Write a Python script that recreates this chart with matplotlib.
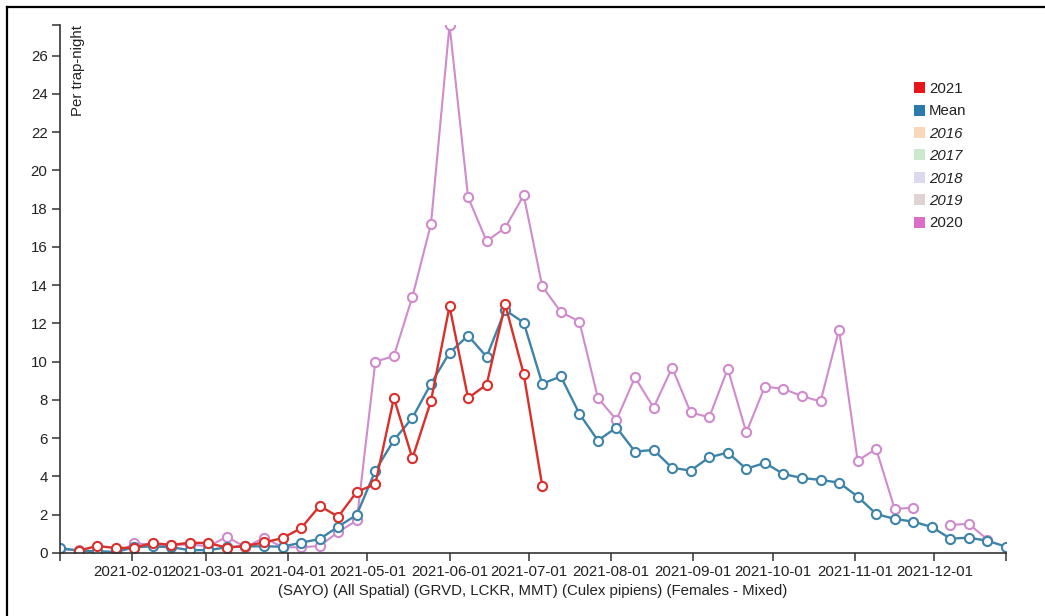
import numpy as np
import pandas as pd
import matplotlib
matplotlib.use('Agg')
import matplotlib.pyplot as plt
import matplotlib.dates as mdates
from matplotlib.patches import Patch
from matplotlib.lines import Line2D

plt.rcParams['font.family'] = ['Liberation Sans', 'DejaVu Sans']

nan = np.nan

# weekly collection dates
weeks = pd.date_range('2021-01-05', periods=52, freq='7D')

# per trap-night counts, 2021 season so far
y2021 = [nan, 0.12, 0.37, 0.26, 0.28, 0.52, 0.42, 0.54, 0.52, 0.28,
         0.37, 0.55, 0.78, 1.3, 2.46, 1.9, 3.2, 3.6, 8.1, 4.95,
         7.95, 12.9, 8.1, 8.8, 13.0, 9.35, 3.5] + [nan] * 25

# multi-year mean
y_mean = [0.26, 0.12, 0.1, 0.05, 0.3, 0.35, 0.3, 0.15, 0.15, 0.3,
          0.35, 0.35, 0.33, 0.54, 0.73, 1.38, 2.0, 4.3, 5.9, 7.07,
          8.85, 10.47, 11.36, 10.26, 12.7, 12.04, 8.85, 9.23, 7.28, 5.88,
          6.56, 5.3, 5.39, 4.45, 4.31, 5.0, 5.25, 4.4, 4.71, 4.13,
          3.92, 3.82, 3.68, 2.95, 2.04, 1.78, 1.64, 1.36, 0.75, 0.8,
          0.64, 0.33]

# 2020 season
y2020 = [0.2, 0.15, 0.0, 0.0, 0.5, 0.45, 0.4, 0.45, 0.35, 0.85,
         0.3, 0.8, 0.3, 0.3, 0.37, 1.1, 1.7, 10.0, 10.3, 13.4,
         17.2, 27.6, 18.6, 16.3, 17.0, 18.7, 13.94, 12.6, 12.1, 8.1,
         6.96, 9.18, 7.6, 9.69, 7.35, 7.09, 9.63, 6.3, 8.7, 8.58,
         8.2, 7.92, 11.68, 4.83, 5.44, 2.3, 2.37, nan, 1.47, 1.52,
         0.7, nan]

legend_labels = ['2021', 'Mean', '2016', '2017', '2018', '2019', '2020']
legend_colors = ['#e8161b', '#2a7bab', '#fbd9b8', '#cde8cc', '#ddd8f0', '#e0d3d3', '#d96fc9']
hidden_years = ['2016', '2017', '2018', '2019']

FS = 10.8
W, H = 1045, 616
fig = plt.figure(figsize=(W / 100, H / 100), dpi=100)
ax = fig.add_axes([60 / W, 1 - 553 / H, (1006 - 60) / W, (553 - 25) / H])

marker_kw = dict(marker='o', markersize=6.6, markerfacecolor='white', markeredgewidth=1.5)
ax.plot(weeks, y2020, color='#d08bcd', linewidth=1.5, markeredgecolor='#d08bcd', **marker_kw)
ax.plot(weeks, y_mean, color='#3d84a8', linewidth=1.7, markeredgecolor='#3d84a8', **marker_kw)
ax.plot(weeks, y2021, color='#d9302c', linewidth=1.7, markeredgecolor='#d9302c', **marker_kw)

ax.set_xlim(weeks[0], weeks[-1])
ax.set_ylim(0, np.nanmax(y2020))

for s in ['top', 'right']:
    ax.spines[s].set_visible(False)
for s in ['left', 'bottom']:
    ax.spines[s].set_color('#333333')
    ax.spines[s].set_linewidth(1.2)

month_ticks = pd.date_range('2021-02-01', '2021-12-01', freq='MS')
ax.set_xticks(list(month_ticks))
ax.xaxis.set_major_formatter(mdates.DateFormatter('%Y-%m-%d'))
ax.set_yticks(np.arange(0, 27, 2))
# outer ticks at the ends of each axis
ax.set_xticks([weeks[0], weeks[-1]], minor=True)
ax.set_yticks([np.nanmax(y2020)], minor=True)
ax.tick_params(which='both', direction='out', length=6, width=1.1, color='#333333',
               labelsize=FS, labelcolor='#222222', pad=3)

ax.set_xlabel('(SAYO) (All Spatial) (GRVD, LCKR, MMT) (Culex pipiens) (Females - Mixed)',
              fontsize=FS, color='#222222', labelpad=3)
ax.text(0.012, 1.0, 'Per trap-night', transform=ax.transAxes, rotation=90,
        ha='left', va='top', fontsize=FS, color='#222222')

handles = [Patch(facecolor=c, edgecolor='none') for c in legend_colors]
leg = ax.legend(handles, legend_labels, loc='upper left',
                bbox_to_anchor=(908 / W, 1 - 76 / H), bbox_transform=fig.transFigure,
                frameon=False, fontsize=FS, handlelength=0.75, handleheight=0.75,
                handletextpad=0.25, labelspacing=0.56, borderaxespad=0)
for t in leg.get_texts():
    t.set_color('#222222')
    if t.get_text() in hidden_years:
        t.set_fontstyle('italic')

# frame edges along top and left of the image
fig.add_artist(Line2D([7 / W, 1], [1 - 7 / H, 1 - 7 / H], color='black', linewidth=1.6))
fig.add_artist(Line2D([7 / W, 7 / W], [0, 1 - 7 / H], color='black', linewidth=1.6))

fig.savefig('out.png', dpi=100, facecolor='white')
